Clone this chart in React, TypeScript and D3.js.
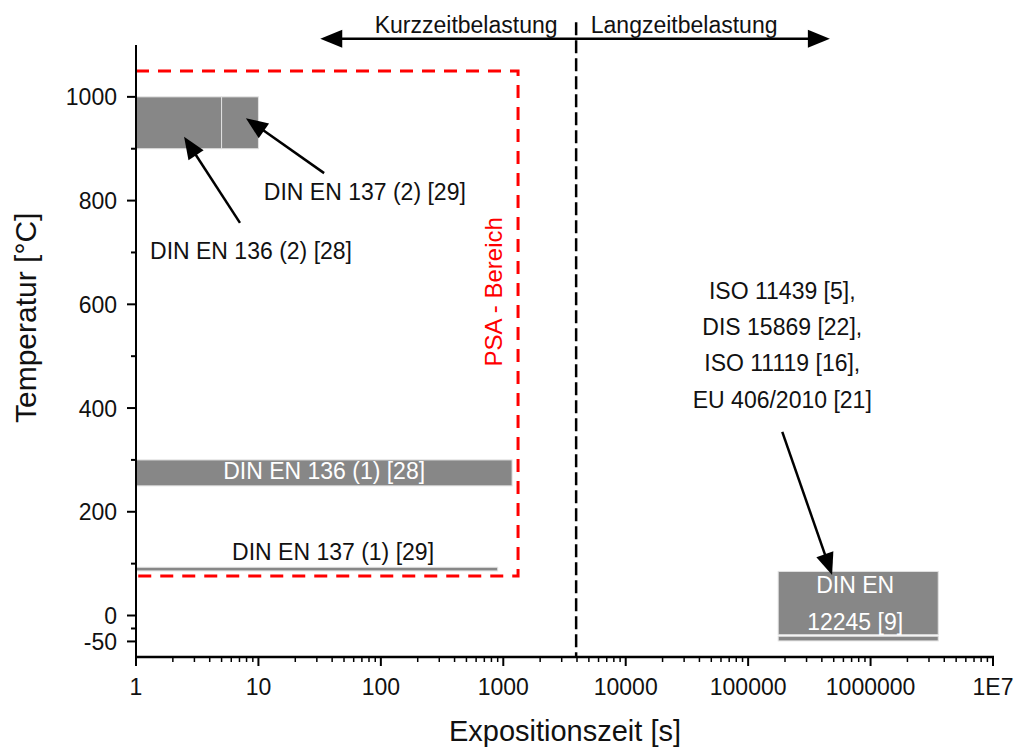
import React from "react";
import * as d3 from "d3";

// ---------- data ----------
const xTickValues = [1, 10, 100, 1000, 10000, 100000, 1000000, 10000000];
const xTickLabels = ["1", "10", "100", "1000", "10000", "100000", "1000000", "1E7"];
const yTickValues = [1000, 800, 600, 400, 200, 0, -50];
const yTickLabels = ["1000", "800", "600", "400", "200", "0", "-50"];
const yMinorTicks = [900, 700, 500, 300, 100, -25];

// bars: [x0, x1, y0, y1]
const barNames = ["DIN EN 136 (2)", "DIN EN 137 (2)", "DIN EN 136 (1)", "DIN EN 137 (1)", "DIN EN 12245", "DIN EN 12245 b"];
const barX0 = [1, 5, 1, 1, 176000, 176000];
const barX1 = [5, 10, 1180, 900, 3570000, 3570000];
const barY0 = [900, 900, 250, 86, -37, -49];
const barY1 = [1000, 1000, 300, 93, 85, -40];

// PSA region (red dashed)
const psaX = [1, 1320];
const psaY = [76, 1050];
const psaLabel = "PSA - Bereich";
const psaLabelY = 624;

// boundary 1 h line
const boundaryX = 3936;
const boundaryY = [-80, 1144];

// top arrows
const arrowTopY = 1112;
const arrowLeftX = 32;
const arrowRightX = 465000;
const kurzLabel = "Kurzzeitbelastung";
const kurzX = 497;
const langLabel = "Langzeitbelastung";
const langX = 30000;
const topLabelY = 1124;

// annotations with arrows: tail (x,y) -> tip (x,y)
const annTailX = [34.4, 7.07, 190000];
const annTailY = [853, 757, 354];
const annTipX = [7.9, 2.47, 485000];
const annTipY = [959, 923, 78];

// free text labels (black)
const textLabels = ["DIN EN 137 (2) [29]", "DIN EN 136 (2) [28]", "DIN EN 137 (1) [29]",
  "ISO 11439 [5],", "DIS 15869 [22],", "ISO 11119 [16],", "EU 406/2010 [21]"];
const textX = [74, 8.7, 40.7, 190000, 190000, 190000, 190000];
const textY = [801, 687, 107, 611, 540, 471, 400];

// white labels inside bars
const whiteLabels = ["DIN EN 136 (1) [28]", "DIN EN", "12245 [9]"];
const whiteX = [34.4, 748000, 748000];
const whiteY = [263, 43, -28];

export default function App() {
  const W = 1020, H = 747;
  const x = d3.scaleLog().domain([1, 1e7]).range([136, 993]);
  const y = d3.scaleLinear().domain([-80, 1100]).range([657, 45]);
  const font = "'Liberation Sans', Arial, sans-serif";
  const barFill = "#878787";

  const minorX: number[] = [];
  for (let e = 0; e < 7; e++) for (let m = 2; m <= 9; m++) minorX.push(m * Math.pow(10, e));

  const arrowHead = (x1: number, y1: number, x2: number, y2: number, len = 20, half = 8) => {
    const dx = x2 - x1, dy = y2 - y1;
    const L = Math.hypot(dx, dy);
    const ux = dx / L, uy = dy / L;
    const bx = x2 - ux * len, by = y2 - uy * len;
    const px = -uy, py = ux;
    return `${x2},${y2} ${bx + px * half},${by + py * half} ${bx - px * half},${by - py * half}`;
  };

  const yA = y(arrowTopY);
  const xL = x(arrowLeftX), xR = x(arrowRightX);

  return (
    <svg width={W} height={H} style={{ position: "absolute", left: 0, top: 0, background: "#fff" }} fontFamily={font}>
      {/* bars */}
      {barNames.map((n, i) => (
        <rect key={n} x={x(barX0[i])} y={y(barY1[i])} width={x(barX1[i]) - x(barX0[i])}
          height={y(barY0[i]) - y(barY1[i])} fill={barFill} stroke="#e2e2e2" strokeWidth={1} />
      ))}
      {/* PSA red dashed */}
      <polyline
        points={`${x(psaX[0])},${y(psaY[1])} ${x(psaX[1])},${y(psaY[1])} ${x(psaX[1])},${y(psaY[0])} ${x(psaX[0])},${y(psaY[0])}`}
        fill="none" stroke="#ff0000" strokeWidth={3} strokeDasharray="13 9" />
      <text transform={`translate(${x(psaX[1]) - 16},${y(psaLabelY)}) rotate(-90)`} textAnchor="middle"
        fontSize={24} fill="#ff0000">{psaLabel}</text>

      {/* boundary dashed line */}
      <line x1={x(boundaryX)} x2={x(boundaryX)} y1={y(boundaryY[1])} y2={y(boundaryY[0])}
        stroke="#000" strokeWidth={2.5} strokeDasharray="13 5" />

      {/* top arrows */}
      <line x1={xL + 15} x2={xR - 15} y1={yA} y2={yA} stroke="#000" strokeWidth={2.5} />
      <polygon points={arrowHead(xR - 30, yA, xR, yA, 22, 9)} fill="#000" />
      <polygon points={arrowHead(xL + 30, yA, xL, yA, 22, 9)} fill="#000" />
      <text x={x(kurzX)} y={y(topLabelY)} textAnchor="middle" fontSize={23} fill="#111">{kurzLabel}</text>
      <text x={x(langX)} y={y(topLabelY)} textAnchor="middle" fontSize={23} fill="#111">{langLabel}</text>

      {/* annotation arrows */}
      {annTailX.map((_, i) => {
        const x1 = x(annTailX[i]), y1 = y(annTailY[i]), x2 = x(annTipX[i]), y2 = y(annTipY[i]);
        const L = Math.hypot(x2 - x1, y2 - y1);
        const ex = x2 - (x2 - x1) / L * 16, ey = y2 - (y2 - y1) / L * 16;
        return (
          <g key={i}>
            <line x1={x1} y1={y1} x2={ex} y2={ey} stroke="#000" strokeWidth={2.5} />
            <polygon points={arrowHead(x1, y1, x2, y2, 22, 9)} fill="#000" />
          </g>
        );
      })}

      {/* texts */}
      {textLabels.map((t, i) => (
        <text key={t} x={x(textX[i])} y={y(textY[i])} textAnchor="middle" fontSize={23} fill="#111">{t}</text>
      ))}
      {whiteLabels.map((t, i) => (
        <text key={t} x={x(whiteX[i])} y={y(whiteY[i])} textAnchor="middle" fontSize={23} fill="#fff">{t}</text>
      ))}

      {/* axes */}
      <line x1={136} x2={136} y1={y(1100)} y2={y(-80) + 1} stroke="#000" strokeWidth={2} />
      <line x1={135} x2={x(1e7) + 1} y1={y(-80)} y2={y(-80)} stroke="#000" strokeWidth={2.5} />
      {yTickValues.map((v, i) => (
        <g key={v}>
          <line x1={136 - 9} x2={136} y1={y(v)} y2={y(v)} stroke="#000" strokeWidth={2} />
          <text x={117} y={y(v) + 8.5} textAnchor="end" fontSize={23} fill="#111">{yTickLabels[i]}</text>
        </g>
      ))}
      {yMinorTicks.map((v) => (
        <line key={v} x1={136 - 5} x2={136} y1={y(v)} y2={y(v)} stroke="#000" strokeWidth={2} />
      ))}
      {xTickValues.map((v, i) => (
        <g key={v}>
          <line x1={x(v)} x2={x(v)} y1={y(-80)} y2={y(-80) + 9} stroke="#000" strokeWidth={2} />
          <text x={x(v)} y={695} textAnchor="middle" fontSize={23} fill="#111">{xTickLabels[i]}</text>
        </g>
      ))}
      {minorX.map((v) => (
        <line key={v} x1={x(v)} x2={x(v)} y1={y(-80)} y2={y(-80) + 5} stroke="#000" strokeWidth={1.5} />
      ))}
      <text x={565} y={741} textAnchor="middle" fontSize={29} fill="#111">Expositionszeit [s]</text>
      <text transform={`translate(36,${y(574)}) rotate(-90)`} textAnchor="middle" fontSize={30} fill="#111">Temperatur [°C]</text>
    </svg>
  );
}
